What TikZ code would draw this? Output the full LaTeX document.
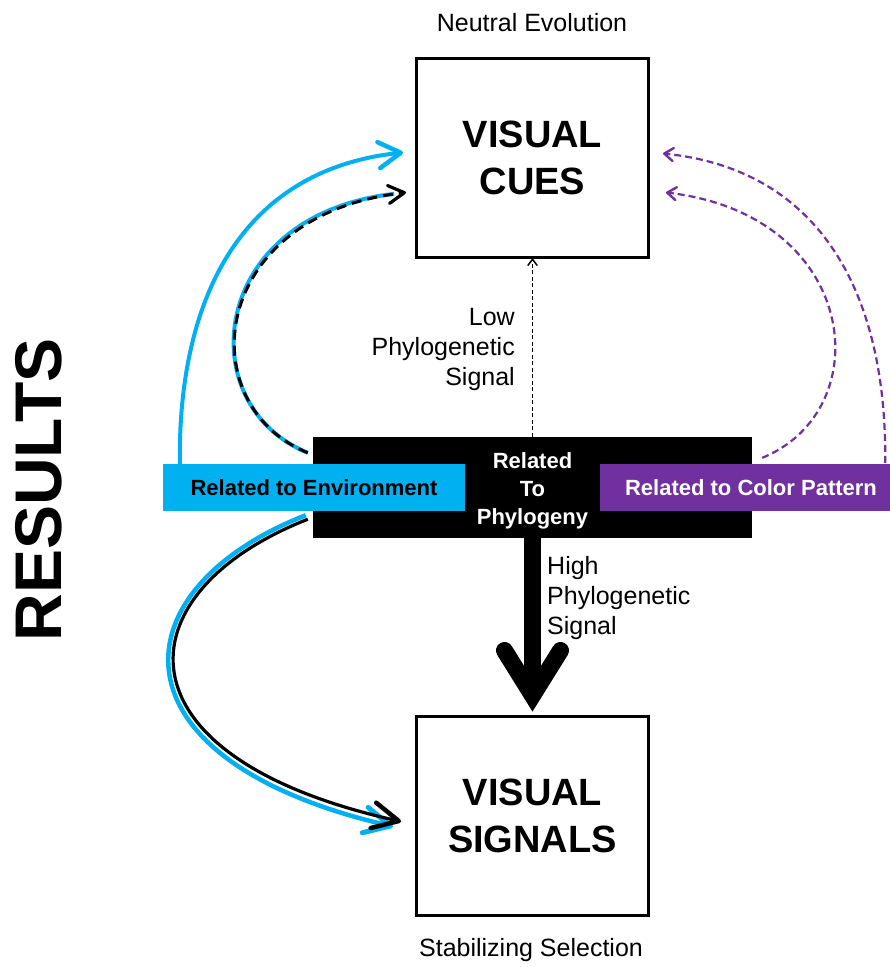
\documentclass[tikz,border=0pt]{standalone}
\usepackage{fontspec}
\setmainfont{Liberation Sans}
\usetikzlibrary{arrows.meta,calc}
\definecolor{cyanb}{HTML}{00B0F0}
\definecolor{purp}{HTML}{7030A0}
\begin{document}
\begin{tikzpicture}[x=1pt,y=-1pt,
  bigbox/.style={draw=black,line width=3pt,minimum width=232pt,minimum height=199pt,inner sep=0pt,align=center,font=\fontsize{38}{47}\selectfont\bfseries},
  lbl/.style={font=\fontsize{25}{30}\selectfont,inner sep=0pt},
  tag/.style={minimum height=47pt,minimum width=302pt,inner sep=0pt,font=\fontsize{22}{27}\selectfont\bfseries},
  envarrow/.style={cyanb,line width=4pt},
  purparrow/.style={purp,line width=2.2pt,dash pattern=on 7pt off 4pt,-{Straight Barb[round,length=9pt,width=13pt,line width=2.4pt]}}]
\useasboundingbox (0,0) rectangle (890,967);

% boxes
\node[bigbox] (cues) at (532.5,157.5) {VISUAL\\CUES};
\node[bigbox] (signals) at (532.5,815.5) {VISUAL\\SIGNALS};
\node[fill=black,minimum width=439pt,minimum height=101pt,inner sep=0pt] (phylo) at (532.5,487.5) {};
\node[text=white,align=center,inner sep=0pt,font=\fontsize{22}{28}\selectfont\bfseries] (phylotext) at ($(phylo.center)+(0,3)$) {Related\\To\\Phylogeny};
\node[tag,fill=cyanb] (env) at (314,487.5) {Related to Environment};
\node[tag,fill=purp,text=white] (color) at (751,487.5) {Related to Color Pattern};

% labels
\node[lbl] (neutral) at (532,23) {Neutral Evolution};
\node[lbl,anchor=base] (stab) at (531,956) {Stabilizing Selection};
\node[lbl,align=right,anchor=north east] (low) at (515,308) {Low\\Phylogenetic\\Signal};
\node[lbl,align=left,anchor=north west] (high) at (547,556) {High\\Phylogenetic\\Signal};
\node[font=\fontsize{66}{70}\selectfont\bfseries,rotate=90,inner sep=0pt] (results) at (39,490) {RESULTS};

% connector end points
\coordinate (s1) at ($(env.north west)+(17,0)$);
\coordinate (e1) at ($(cues.west)+(-12,-5)$);
\coordinate (s2) at ($(phylo.north west)+(-5,16)$);
\coordinate (e2) at ($(cues.west)+(-9,35)$);
\coordinate (s3) at ($(color.north east)+(-17,-1)$);
\coordinate (e3) at ($(cues.east)+(13,-4)$);
\coordinate (s4) at ($(phylo.north east)+(10,21)$);
\coordinate (e4) at ($(cues.east)+(16,35)$);
\coordinate (s5) at ($(phylo.west |- env.south)+(-7,4)$);
\coordinate (s6) at ($(phylo.west |- env.south)+(-5,8)$);
\coordinate (e5) at ($(signals.west)+(-22,11)$);
\coordinate (e6) at ($(signals.west)+(-14,6)$);

% low phylogenetic signal
\draw[line width=1.3pt,dash pattern=on 4pt off 2.5pt,-{Straight Barb[round,length=6pt,width=9pt,line width=1.5pt]}] (phylo.north) -- (cues.south);

% high phylogenetic signal
\draw[line width=17pt] (phylo.south) -- ($(signals.north)+(0,-20)$);
\draw[line width=17pt,line cap=round,line join=miter] ($(signals.north)+(-28,-64)$) -- ($(signals.north)+(0,-19)$) -- ($(signals.north)+(28,-64)$);

% environment arrows
\draw[envarrow,-{Straight Barb[round,length=22pt,width=26pt,line width=4.5pt]}] (s1) .. controls (178,300) and (240,170) .. (e1);
\draw[envarrow,shorten >=12pt] (s2) .. controls (190,405) and (208,215) .. (e2);
\draw[black,line width=3pt,dash pattern=on 10pt off 6pt,-{Straight Barb[round,length=16pt,width=18pt,line width=3.2pt]}] (s2) .. controls (190,405) and (208,215) .. (e2);
\draw[envarrow,line width=4.5pt,-{Straight Barb[round,length=26pt,width=26pt,line width=5pt]}] (s5) .. controls (115,590) and (105,760) .. (e5);
\draw[black,line width=3.2pt,-{Straight Barb[round,length=26pt,width=26pt,line width=4.5pt]}] (s6) .. controls (120,593) and (110,757) .. (e6);

% color pattern arrows
\draw[purparrow] (s3) .. controls (887,300) and (825,170) .. (e3);
\draw[purparrow] (s4) .. controls (880,410) and (860,215) .. (e4);
\end{tikzpicture}
\end{document}
